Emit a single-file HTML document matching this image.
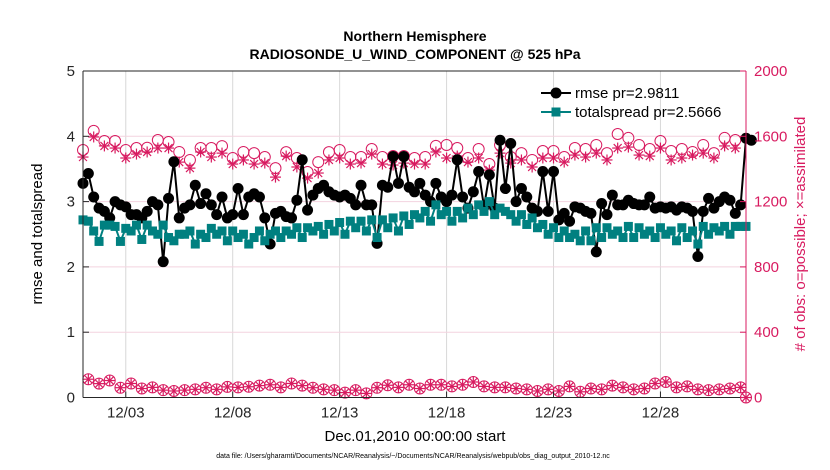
<!DOCTYPE html>
<html><head><meta charset="utf-8"><style>
html,body{margin:0;padding:0;background:#fff;}
svg{display:block;font-family:"Liberation Sans",Arial,sans-serif;}
</style></head><body>
<svg id="chart" width="830" height="470" viewBox="0 0 830 470" xmlns="http://www.w3.org/2000/svg">
<text x="415" y="41" text-anchor="middle" font-size="14" font-weight="bold">Northern Hemisphere</text>
<text x="415" y="59" text-anchor="middle" font-size="14" font-weight="bold">RADIOSONDE_U_WIND_COMPONENT @ 525 hPa</text>
<g id="grid"></g>
<g id="series"></g>
<g id="axes"></g>
<text transform="translate(42,234) rotate(-90)" text-anchor="middle" font-size="15">rmse and totalspread</text>
<text transform="translate(805,234) rotate(-90)" text-anchor="middle" font-size="15" fill="#D81B60">#  of obs: o=possible; ×=assimilated</text>
<text x="415" y="441" text-anchor="middle" font-size="15">Dec.01,2010 00:00:00 start</text>
<text x="413" y="458" text-anchor="middle" font-size="7">data file: /Users/gharamti/Documents/NCAR/Reanalysis/~/Documents/NCAR/Reanalysis/webpub/obs_diag_output_2010-12.nc</text>
<g id="legend"></g>
</svg>
<script>
const xTickLabels = ["12/03","12/08","12/13","12/18","12/23","12/28"];
const xTickDays = [2,7,12,17,22,27];
const yTicks = [0,1,2,3,4,5];
const y2Ticks = [0,400,800,1200,1600,2000];
const rmse = [3.28,3.43,3.07,2.90,2.85,2.75,3.00,2.95,2.92,2.80,2.80,2.75,2.85,3.00,2.95,2.08,3.05,3.61,2.75,2.90,2.95,3.25,2.97,3.12,2.95,2.80,3.07,2.75,2.80,3.20,2.80,3.07,
3.12,3.07,2.75,2.35,2.82,2.85,2.77,2.75,3.02,3.64,2.87,3.10,3.20,3.25,3.15,3.10,3.07,3.10,3.05,2.95,3.25,2.95,2.95,2.36,3.25,3.22,3.69,3.28,3.69,3.22,3.15,
3.28,3.10,3.00,3.28,3.07,3.00,3.10,3.64,3.07,2.90,3.15,3.46,2.92,3.41,2.90,3.94,3.20,3.89,3.00,3.20,3.07,2.90,2.85,3.46,2.85,3.46,2.72,2.82,2.70,2.92,2.90,
2.85,2.82,2.23,2.97,2.80,3.10,2.95,2.95,3.02,2.97,2.95,2.95,3.07,2.90,2.92,2.90,2.92,2.87,2.92,2.90,2.85,2.16,2.85,3.05,2.90,3.00,3.07,3.02,2.82,2.95,3.97,3.94];
const totalspread = [2.72,2.70,2.55,2.39,2.64,2.64,2.62,2.39,2.59,2.55,2.64,2.42,2.64,2.55,2.50,2.64,2.45,2.40,2.50,2.50,2.55,2.35,2.50,2.45,2.59,2.50,2.55,2.40,2.55,2.45,2.50,2.35,
2.45,2.55,2.40,2.50,2.55,2.45,2.55,2.50,2.60,2.45,2.60,2.55,2.62,2.50,2.65,2.55,2.68,2.50,2.70,2.60,2.70,2.55,2.72,2.45,2.72,2.60,2.75,2.55,2.78,2.65,2.80,
2.75,2.85,2.70,2.95,2.80,2.85,2.70,2.85,2.75,2.90,2.80,2.95,2.85,3.00,2.80,2.90,2.85,2.80,2.70,2.80,2.65,2.75,2.60,2.65,2.50,2.60,2.45,2.55,2.45,2.50,2.40,
2.55,2.40,2.60,2.45,2.60,2.50,2.55,2.45,2.62,2.45,2.60,2.50,2.55,2.45,2.60,2.50,2.55,2.40,2.60,2.45,2.55,2.35,2.62,2.50,2.60,2.55,2.62,2.50,2.62,2.62,2.62];
const possibleMain = [1516,1633,1571,1571,1516,1528,1530,1577,1565,1504,1455,1528,1528,1540,1467,1504,
1497,1473,1405,1503,1467,1381,1442,1503,1516,1473,1473,1522,1473,1479,1479,
1467,1473,1541,1547,1528,1467,1522,1430,1547,1473,1497,1455,1510,1510,1473,1528,
1522,1547,1497,1614,1590,1547,1522,1571,1510,1522,1504,1547,1497,1590,1577];
const assimMain = [1473,1596,1541,1528,1467,1491,1504,1528,1528,1442,1405,1504,1473,1497,1430,1455,
1430,1436,1350,1479,1412,1344,1375,1455,1467,1430,1436,1491,1430,1424,1436,
1430,1430,1504,1467,1479,1442,1467,1393,1497,1436,1455,1412,1467,1467,1442,1485,
1473,1497,1455,1528,1534,1485,1479,1528,1455,1467,1485,1497,1467,1541,1528];
const obsOffCycle = [112,85,104,60,86,55,62,45,40,45,50,60,50,65,62,66,73,78,62,86,73,60,50,45,30,45,25,60,75,62,78,55,78,78,68,78,95,68,62,62,55,50,40,50,40,68,35,55,50,73,62,50,55,86,95,62,68,50,45,50,55,62];
const obsFinal = [0];

const L=83,R=746,T=71,B=397.5, NSTEP=124;
const xs = i => L + (R-L)*i/NSTEP;
const yL = v => B - (B-T)*v/5;
const yR = v => B - (B-T)*v/2000;
const NS="http://www.w3.org/2000/svg";
function mk(tag, attrs, parent){const e=document.createElementNS(NS,tag);for(const k in attrs)e.setAttribute(k,attrs[k]);parent.appendChild(e);return e;}
const grid=document.getElementById('grid'), axes=document.getElementById('axes'), series=document.getElementById('series'), legend=document.getElementById('legend');
const PINK="#D81B60", TEAL="#008080";

xTickDays.forEach(d=>{const x=xs(d*4);
  const g=mk('line',{x1:x,x2:x,y1:T,y2:B,stroke:'#d8d8d8','stroke-width':1},grid);
  
  });
y2Ticks.forEach(v=>{const y=yR(v);
  const g=mk('line',{x1:L,x2:R,y1:y,y2:y,stroke:'#f3d3df','stroke-width':1},grid);
  
  });

function circle(x,y,parent,name){const c=mk('circle',{cx:x,cy:y,r:5.5,fill:'none',stroke:PINK,'stroke-width':1},parent);
  
  }
function star(x,y,parent,name){const g=mk('g',{stroke:PINK,'stroke-width':1.2},parent);
  
  
  const r=5.5;mk('line',{x1:x-r,x2:x+r,y1:y,y2:y},g);mk('line',{x1:x,x2:x,y1:y-r,y2:y+r},g);
  const d=r*0.72;mk('line',{x1:x-d,x2:x+d,y1:y-d,y2:y+d},g);mk('line',{x1:x-d,x2:x+d,y1:y+d,y2:y-d},g);}
const obsG=mk('g',{},series);


possibleMain.forEach((v,k)=>circle(xs(2*k),yR(v),obsG,'possible-obs-marker'));
assimMain.forEach((v,k)=>star(xs(2*k),yR(v),obsG,'assimilated-obs-marker'));
obsOffCycle.forEach((v,k)=>{circle(xs(2*k+1),yR(v),obsG,'possible-obs-marker');star(xs(2*k+1),yR(v),obsG,'assimilated-obs-marker');});
obsFinal.forEach(v=>{circle(xs(NSTEP),yR(v),obsG,'possible-obs-marker');star(xs(NSTEP),yR(v),obsG,'assimilated-obs-marker');});

const rmseG=mk('g',{},series);


const rl=mk('polyline',{points:rmse.map((v,i)=>xs(i)+','+yL(v)).join(' '),fill:'none',stroke:'#000','stroke-width':2},rmseG);


rmse.forEach((v,i)=>{const c=mk('circle',{cx:xs(i),cy:yL(v),r:5.5,fill:'#000'},rmseG);
  
  });

const spG=mk('g',{},series);


const sl=mk('polyline',{points:totalspread.map((v,i)=>xs(i)+','+yL(v)).join(' '),fill:'none',stroke:TEAL,'stroke-width':2},spG);


totalspread.forEach((v,i)=>{const s=mk('rect',{x:xs(i)-4.5,y:yL(v)-4.5,width:9,height:9,fill:TEAL},spG);
  
  });

mk('line',{x1:L,x2:L,y1:T,y2:B,stroke:'#262626','stroke-width':1},axes);
mk('line',{x1:L,x2:R,y1:B,y2:B,stroke:'#262626','stroke-width':1},axes);
mk('line',{x1:L,x2:R,y1:T,y2:T,stroke:'#262626','stroke-width':1},axes);
mk('line',{x1:R,x2:R,y1:T,y2:B,stroke:PINK,'stroke-width':1},axes);
yTicks.forEach(v=>{const y=yL(v);
  mk('line',{x1:L,x2:L+6,y1:y,y2:y,stroke:'#262626'},axes);
  const t=mk('text',{x:L-8,y:y+5,'text-anchor':'end','font-size':15,fill:'#262626'},axes);t.textContent=v;
  
  });
y2Ticks.forEach(v=>{const y=yR(v);
  mk('line',{x1:R-6,x2:R,y1:y,y2:y,stroke:PINK},axes);
  const t=mk('text',{x:R+8,y:y+5,'font-size':15,fill:PINK},axes);t.textContent=v;
  
  });
xTickDays.forEach((d,k)=>{const x=xs(d*4);
  mk('line',{x1:x,x2:x,y1:B,y2:B-6,stroke:'#262626'},axes);
  const t=mk('text',{x:x,y:B+20,'text-anchor':'middle','font-size':15,fill:'#262626'},axes);t.textContent=xTickLabels[k];
  
  });

function legEntry(y,label,color,shape,name){const g=mk('g',{},legend);
  
  
  mk('line',{x1:541,x2:571,y1:y,y2:y,stroke:color,'stroke-width':2},g);
  if(shape==='c')mk('circle',{cx:556,cy:y,r:5.5,fill:color},g);else mk('rect',{x:551.5,y:y-4.5,width:9,height:9,fill:color},g);
  const t=mk('text',{x:575,y:y+5,'font-size':15,fill:'#000'},g);t.textContent=label;}
legEntry(93,'rmse pr=2.9811','#000','c','legend-entry-rmse');
legEntry(112,'totalspread pr=2.5666',TEAL,'s','legend-entry-totalspread');
</script>
</body></html>
